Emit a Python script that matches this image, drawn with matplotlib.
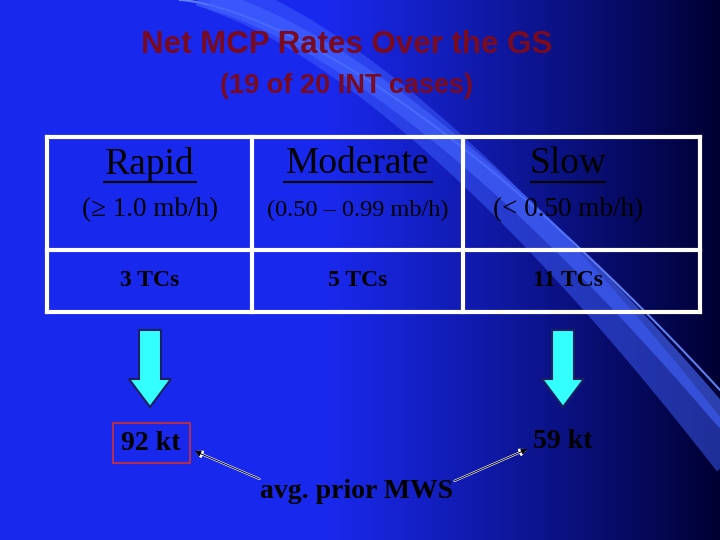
import numpy as np
import matplotlib
matplotlib.use("Agg")
import matplotlib.pyplot as plt
from matplotlib.patches import FancyArrow, Rectangle, FancyArrowPatch

categories = ["Rapid", "Moderate", "Slow"]
ranges = ["(≥ 1.0 mb/h)", "(0.50 – 0.99 mb/h)", "(< 0.50 mb/h)"]
counts = [3, 5, 11]
mws_labels = ["92 kt", "59 kt"]

fig = plt.figure(figsize=(7.2, 5.4), dpi=100)
ax = fig.add_axes([0, 0, 1, 1])
ax.set_xlim(0, 720); ax.set_ylim(540, 0); ax.axis("off")

# background gradient
t = np.linspace(0, 1, 256)
c0 = np.array([0.10, 0.16, 0.93]); c1 = np.array([0.0, 0.0, 0.20])
w = np.clip((t - 0.45) / 0.55, 0, 1) ** 1.1
grad = (c0[None, :] * (1 - w[:, None]) + c1[None, :] * w[:, None])[None, :, :]
ax.imshow(np.repeat(grad, 2, axis=0), extent=[0, 720, 540, 0], aspect="auto", zorder=0)

# decorative curves
xs = np.linspace(180, 720, 200)
for off, col, lw, al in [(0, "#6a8cff", 1.5, 0.9), (30, "#4a6cff", 14, 0.6), (70, "#3f5fff", 26, 0.5)]:
    ys = ((xs - 180) / 540) ** 1.5 * (390 + off) - off * 0.2
    ax.plot(xs, ys, color=col, lw=lw, alpha=al, zorder=1)

ax.text(347, 45, "Net MCP Rates Over the GS", ha="center", va="center",
        fontsize=22.5, fontweight="bold", color="#7a0a1e", family="Liberation Sans")
ax.text(347, 86, "(19 of 20 INT cases)", ha="center", va="center",
        fontsize=19.5, fontweight="bold", color="#7a0a1e", family="Liberation Sans")

# table
xv = [47, 252, 463, 700]
for x in xv:
    ax.plot([x, x], [137, 312], color="white", lw=3, zorder=3)
for y in [137, 250, 312]:
    ax.plot([47, 700], [y, y], color="white", lw=3, zorder=3)
centers = [150, 358, 568]
for i, cx in enumerate(centers):
    ax.text(cx, 164, categories[i], ha="center", va="center", fontsize=27,
            family="Liberation Serif", color="black", zorder=4)
    tw = [92, 148, 74][i]
    ax.plot([cx - tw / 2, cx + tw / 2], [182, 182], color="black", lw=1.5, zorder=4)
    ax.text(cx, 210, ranges[i], ha="center", va="center",
            fontsize=[19.5, 17.5, 19.5][i], family="Liberation Serif", color="black", zorder=4)
    ax.text(cx, 281, f"{counts[i]} TCs", ha="center", va="center", fontsize=17,
            fontweight="bold", family="Liberation Serif", color="black", zorder=4)

# cyan arrows
for cx in [150, 563]:
    ax.add_patch(FancyArrow(cx, 330, 0, 77, width=22, head_width=42, head_length=28,
                            length_includes_head=True, facecolor="#33ffff",
                            edgecolor="#1a2060", lw=1.5, zorder=4))

ax.add_patch(Rectangle((113, 423), 77, 40, fill=False, edgecolor="#d03030", lw=1.2, zorder=4))
ax.text(151, 443, mws_labels[0], ha="center", va="center", fontsize=20, fontweight="bold",
        family="Liberation Serif", color="black", zorder=5)
ax.text(563, 441, mws_labels[1], ha="center", va="center", fontsize=20, fontweight="bold",
        family="Liberation Serif", color="black", zorder=5)
ax.text(357, 491, "avg. prior MWS", ha="center", va="center", fontsize=20, fontweight="bold",
        family="Liberation Serif", color="black", zorder=5)

for (a, b) in [((262, 480), (192, 450)), ((452, 482), (530, 448))]:
    ax.add_patch(FancyArrowPatch(a, b, arrowstyle="-|>", mutation_scale=10,
                                 color="white", lw=1.6, zorder=5))
    ax.add_patch(FancyArrowPatch(a, b, arrowstyle="-|>", mutation_scale=9,
                                 color="black", lw=0.7, zorder=5))

fig.savefig("out.png", dpi=100)
